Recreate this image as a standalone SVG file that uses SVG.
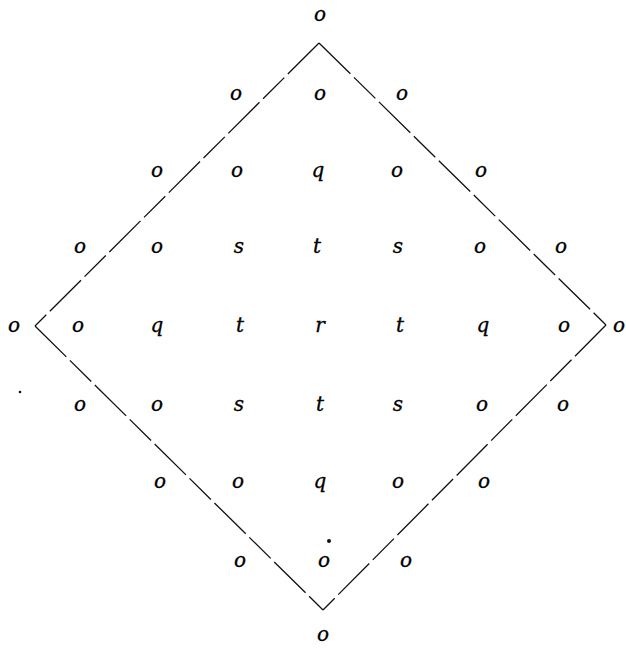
<svg xmlns="http://www.w3.org/2000/svg" width="626" height="651" viewBox="0 0 626 651">
<style>
.l text{font-family:"DejaVu Serif",serif;font-style:italic;font-size:20px;fill:#000;stroke:#000;stroke-width:0.3;text-anchor:middle}
.e{fill:none;stroke:#111;stroke-width:1.3;stroke-dasharray:44 5 30 5}
</style>
<rect width="626" height="651" fill="#fff"/>
<g id="connectors">
<line class="e" x1="319" y1="43" x2="35" y2="326"/>
<line class="e" x1="319" y1="43" x2="606" y2="325"/>
<line class="e" x1="35" y1="326" x2="323" y2="610"/>
<line class="e" x1="606" y1="325" x2="323" y2="610"/>
</g>
<g id="labels" class="l">
<g id="r1"><text x="320" y="21">o</text></g>
<g id="r2"><text x="236" y="100">o</text><text x="320" y="100">o</text><text x="402" y="100">o</text></g>
<g id="r3"><text x="157" y="177">o</text><text x="237" y="177">o</text><text x="318" y="177">q</text><text x="397" y="177">o</text><text x="481" y="177">o</text></g>
<g id="r4"><text x="80" y="253">o</text><text x="157" y="253">o</text><text x="239" y="253">s</text><text x="317" y="253">t</text><text x="398" y="253">s</text><text x="480" y="253">o</text><text x="561" y="253">o</text></g>
<g id="r5"><text x="14" y="332">o</text><text x="78" y="332">o</text><text x="157" y="332">q</text><text x="240" y="332">t</text><text x="320" y="332">r</text><text x="400" y="332">t</text><text x="483" y="332">q</text><text x="564" y="332">o</text><text x="619" y="332">o</text></g>
<g id="r6"><text x="80" y="411">o</text><text x="157" y="411">o</text><text x="239" y="411">s</text><text x="320" y="411">t</text><text x="398" y="411">s</text><text x="482" y="411">o</text><text x="563" y="411">o</text></g>
<g id="r7"><text x="160" y="488">o</text><text x="238" y="488">o</text><text x="320" y="488">q</text><text x="398" y="488">o</text><text x="484" y="488">o</text></g>
<g id="r8"><text x="240" y="567">o</text><text x="324" y="567">o</text><text x="406" y="567">o</text></g>
<g id="r9"><text x="323" y="641">o</text></g>
</g>
<circle cx="329" cy="541" r="2" fill="#111"/>
<circle cx="20" cy="392" r="1.3" fill="#111"/>
</svg>
